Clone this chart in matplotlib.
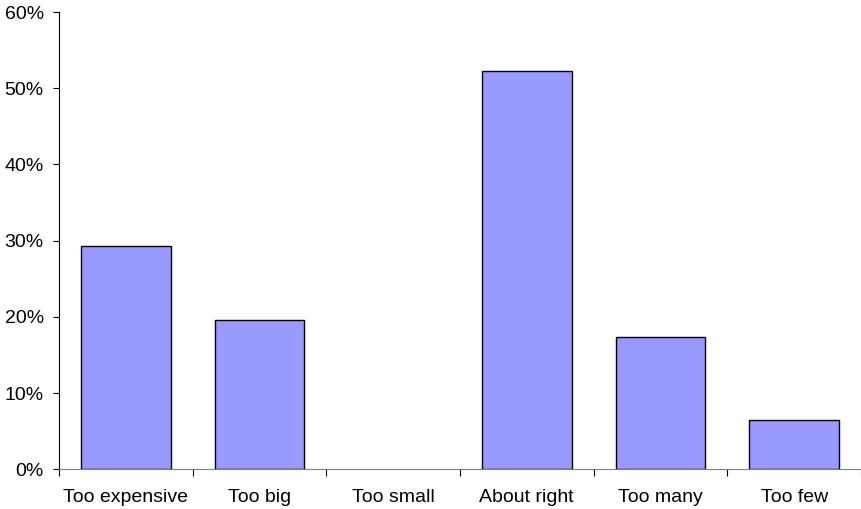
import matplotlib.pyplot as plt
import numpy as np
from matplotlib.ticker import FuncFormatter

plt.rcParams['font.family'] = ['Liberation Sans', 'DejaVu Sans']

# Data
categories = ["Too expensive", "Too big", "Too small", "About right", "Too many", "Too few"]
shares = [29.3, 19.6, 0.0, 52.2, 17.4, 6.5]

fig = plt.figure(figsize=(8.62, 5.09), dpi=100)
ax = fig.add_axes([0.0684, 0.078, 0.9304, 0.8984])

x = np.arange(len(categories))
# no outline on empty bars
edge_w = [1.0 if v > 0 else 0 for v in shares]
ax.bar(x, shares, width=0.67, color='#9999FF', edgecolor='black', linewidth=edge_w)

ax.set_xlim(-0.5, len(categories) - 0.5)
ax.set_ylim(0, 60)
ax.set_yticks(np.arange(0, 61, 10))
ax.yaxis.set_major_formatter(FuncFormatter(lambda v, p: f"{v:.0f}%"))

# category labels centered, ticks at boundaries
ax.set_xticks(np.arange(-0.5, len(categories), 1.0))
ax.set_xticklabels([])
ax.set_xticks(x, minor=True)
ax.set_xticklabels(categories, minor=True)
ax.tick_params(axis='x', which='minor', length=0, pad=14, labelsize=14)
ax.tick_params(axis='x', which='major', length=5, color='black', direction='out')
ax.tick_params(axis='y', length=4.5, labelsize=14, pad=6.5)

for side in ['top', 'right']:
    ax.spines[side].set_visible(False)
ax.spines['left'].set_color('black')
ax.spines['bottom'].set_color('#808080')

fig.savefig('out.png', dpi=100)
